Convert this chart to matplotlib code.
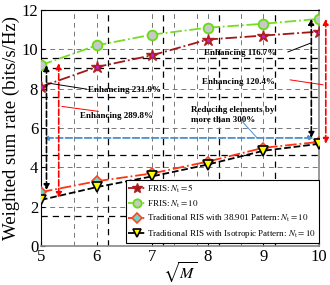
import matplotlib
matplotlib.use("Agg")
import matplotlib.pyplot as plt

plt.rcParams['font.family'] = ['Liberation Serif', 'DejaVu Serif']
plt.rcParams['mathtext.fontset'] = 'stix'

# data
sqrt_m = [5, 6, 7, 8, 9, 10]
fris_nt5 = [8.1, 9.1, 9.7, 10.5, 10.7, 10.9]
fris_nt10 = [9.2, 10.2, 10.75, 11.1, 11.3, 11.55]
ris_38901 = [2.75, 3.3, 3.7, 4.3, 5.0, 5.3]
ris_iso = [2.35, 3.0, 3.55, 4.15, 4.85, 5.2]

labels = ['FRIS: $N_\\mathrm{t}=5$',
          'FRIS: $N_\\mathrm{t}=10$',
          'Traditional RIS with 38.901 Pattern: $N_\\mathrm{t}=10$',
          'Traditional RIS with Isotropic Pattern: $N_\\mathrm{t}=10$']

# extra dashed lines that show up in the picture
extra_h = [1.55, 4.65, 7.6, 9.05, 9.55]
extra_v = [6.2, 7.2, 8.2, 9.2]
minor_v = [5.6, 7.4, 7.8, 8.6]

fig = plt.figure(figsize=(3.3, 2.85), dpi=100)
ax = fig.add_axes([0.124, 0.136, 0.843, 0.829])

ax.set_xlim(5, 10)
ax.set_ylim(0, 12)
ax.set_xticks(sqrt_m)
ax.set_yticks([0, 2, 4, 6, 8, 10, 12])
ax.grid(True, color='#777777', linestyle=(0, (5, 4)), linewidth=0.7)
for y in extra_h:
    ax.axhline(y, color='black', linestyle=(0, (5, 4)), linewidth=0.9, zorder=1)
for x in extra_v:
    ax.axvline(x, color='black', linestyle=(0, (5, 4)), linewidth=0.9, zorder=1)
for x in minor_v:
    ax.axvline(x, color='#777777', linestyle=(0, (5, 4)), linewidth=0.7, zorder=1)

ax.plot(sqrt_m, fris_nt5, linestyle='-.', color='#a01818', linewidth=1.3,
        marker='*', markersize=9, markerfacecolor='#a01818',
        markeredgecolor='#b02020', label=labels[0], zorder=5)
ax.plot(sqrt_m, fris_nt5, linestyle='none', marker='.', markersize=3,
        color='#c020c0', zorder=6)
ax.plot(sqrt_m, fris_nt10, linestyle='-.', color='#77dd22', linewidth=1.3,
        marker='o', markersize=7, markerfacecolor='#c8c8c8',
        markeredgecolor='#66dd11', markeredgewidth=1.3, label=labels[1], zorder=5)
ax.plot(sqrt_m, ris_38901, linestyle='-.', color='#ff3311', linewidth=1.3,
        marker='D', markersize=5.5, markerfacecolor='#66d8cc',
        markeredgecolor='#ff4422', markeredgewidth=1.2, label=labels[2], zorder=5)
ax.plot(sqrt_m, ris_iso, linestyle='--', color='black', linewidth=1.3,
        marker='v', markersize=7, markerfacecolor='#ffff00',
        markeredgecolor='black', markeredgewidth=1.2, label=labels[3], zorder=5)

# arrows
def darrow(x, y0, y1, color):
    ax.annotate('', xy=(x, y1), xytext=(x, y0), annotation_clip=False,
                arrowprops=dict(arrowstyle='<|-|>', color=color, linestyle='--',
                                linewidth=1.2, mutation_scale=8, shrinkA=0, shrinkB=0),
                zorder=7)

darrow(5.1, fris_nt10[0], ris_38901[0] + 0.1, 'black')
darrow(5.32, fris_nt10[0] + 0.1, ris_iso[0] + 0.1, 'red')
darrow(9.86, fris_nt10[-1], ris_38901[-1] + 0.2, 'black')
darrow(10.12, fris_nt10[-1], ris_iso[-1], 'red')

ax.annotate('', xy=(5.05, 5.5), xytext=(9.9, 5.5),
            arrowprops=dict(arrowstyle='<|-|>', color='#4a90d0', linestyle='--',
                            linewidth=1.3, mutation_scale=6, shrinkA=0, shrinkB=0),
            zorder=4)

txt = dict(fontsize=6.5, fontweight='bold', zorder=8)
ax.text(5.84, 7.95, 'Enhancing 231.9%', va='center', ha='left', **txt)
ax.plot([5.1, 5.82], [8.3, 7.98], color='black', linewidth=0.7, zorder=8)
ax.text(5.7, 6.6, 'Enhancing 289.8%', va='center', ha='left', **txt)
ax.plot([5.38, 6.03], [7.1, 6.85], color='red', linewidth=0.7, zorder=8)
ax.text(7.93, 9.8, 'Enhancing 116.7%', va='center', ha='left', **txt)
ax.plot([9.44, 9.86], [9.87, 10.33], color='black', linewidth=0.7, zorder=8)
ax.text(7.9, 8.35, 'Enhancing 120.4%', va='center', ha='left', **txt)
ax.plot([9.48, 10.07], [8.45, 8.2], color='red', linewidth=0.7, zorder=8, clip_on=False)
ax.text(7.7, 6.65, 'Reducing elements by\nmore than 300%', va='center', ha='left',
        linespacing=1.3, **txt)
ax.plot([8.63, 8.88], [6.3, 5.52], color='#4a90d0', linewidth=0.7, zorder=8)

for s in ['left', 'top']:
    ax.spines[s].set_color('black')
for s in ['bottom', 'right']:
    ax.spines[s].set_color('#888888')
    ax.spines[s].set_linewidth(1.2)

ax.tick_params(direction='in', labelsize=12, length=3, pad=2)
ax.set_xlabel('$\\sqrt{M}$', fontsize=11.5, labelpad=-3)
ax.set_ylabel('Weighted sum rate (bits/s/Hz)', fontsize=13.5, labelpad=1)

leg = ax.legend(loc='lower right', bbox_to_anchor=(1.0, 0.015), fontsize=6.5,
                frameon=True, fancybox=False, edgecolor='black', framealpha=1,
                borderaxespad=0.0, handlelength=1.8, borderpad=0.3,
                labelspacing=0.4, handletextpad=0.3, markerscale=0.85)
leg.get_frame().set_linewidth(0.8)
leg.set_zorder(10)

fig.savefig('out.png', dpi=100)
